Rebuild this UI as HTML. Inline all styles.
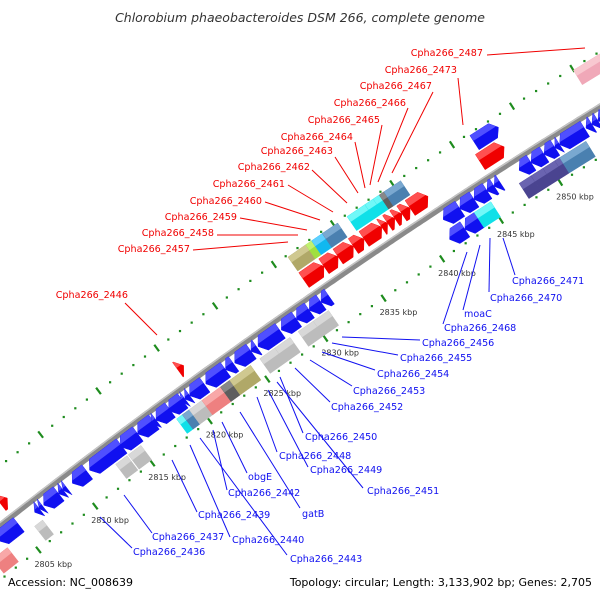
<!DOCTYPE html>
<html><head><meta charset="utf-8"><style>
html,body{margin:0;padding:0;background:#fff;width:600px;height:600px;overflow:hidden}
svg{display:block}
text{font-family:"DejaVu Sans","Liberation Sans",sans-serif}
</style></head><body>
<svg id="chart" width="600" height="600" viewBox="0 0 600 600" xmlns="http://www.w3.org/2000/svg">
<rect width="600" height="600" fill="#fff"/>
<text x="300" y="22" text-anchor="middle" font-size="12.5" font-style="italic" fill="#333">Chlorobium phaeobacteroides DSM 266, complete genome</text>
<g id="ticks"></g><g id="backbone"></g><g id="genes"></g><g id="labels"></g>
<text x="8" y="586" font-size="11" fill="#000">Accession: NC_008639</text>
<text x="592" y="586" text-anchor="end" font-size="11" fill="#000">Topology: circular; Length: 3,133,902 bp; Genes: 2,705</text>
</svg>
<script>
// gene data (kbp)
const geneStart = [2803.2,2806.4,2806.8,2807.2,2808.5,2808.9,2809.7,2811.2,2813.9,2815.4,2816.6,2817.0,2818.1,2819.2,2819.5,2819.9,2821.3,2823.0,2823.8,2825.2,2825.8,2827.8,2829.1,2830.2,2831.2,2841.6,2843.0,2844.2,2845.3,2845.9,2848.0,2849.0,2850.1,2851.0,2851.4,2853.6,2854.1,2854.6,2855.1,2855.6,2856.1,
 2802.1,2805.8,2812.9,2814.0,2818.2,2818.7,2819.3,2820.4,2822.0,2822.8,2825.4,2826.7,2828.7,2830.0,2841.2,2842.5,2843.7,2847.5,2848.5,2849.5,2850.5,2850.9,2855.5,
 2804.9,2820.3,2831.1,2832.8,2834.0,2835.3,2836.2,2837.7,2838.2,2838.8,2839.4,2840.1,2846.0,
 2831.1,2832.6,2833.1,2834.0,2836.1,2837.6,2838.3,2838.8,2839.2,2846.4,2855.0];
const geneEnd = [2805.0,2806.8,2807.1,2808.5,2808.9,2809.2,2811.0,2814.0,2815.4,2816.8,2817.0,2818.2,2819.3,2819.5,2819.9,2821.2,2823.0,2823.7,2825.2,2825.7,2827.7,2829.1,2830.2,2831.2,2831.9,2843.0,2844.2,2845.3,2845.9,2846.4,2849.0,2850.1,2851.0,2851.4,2853.5,2854.1,2854.6,2855.1,2855.6,2856.1,2856.8,
 2803.4,2806.5,2813.9,2815.1,2818.7,2819.3,2820.6,2822.0,2822.8,2824.6,2826.7,2828.0,2830.0,2831.3,2842.5,2843.7,2845.1,2848.5,2849.5,2850.5,2850.9,2853.1,2857.0,
 2805.5,2820.8,2832.8,2834.0,2835.3,2836.2,2837.7,2838.2,2838.8,2839.4,2840.1,2841.6,2848.0,
 2832.6,2833.1,2834.1,2835.3,2837.6,2838.3,2838.8,2839.2,2840.6,2848.4,2857.5];
const geneRow = [].concat(Array(41).fill('b1'),Array(23).fill('b2'),Array(13).fill('r1'),Array(11).fill('r2'));
const geneColor = [].concat(Array(41).fill('blue'),
 ['pink','grey','grey','grey','cyan','steel','grey','pink','dgrey','olive','grey','grey','grey','grey','blue','blue','cyan','purple','purple','purple','purple','steel','steel'],
 Array(13).fill('red'),
 ['olive','lgreen','sky','steel','cyan','cyan','cyan','dgrey','steel','blue','pinkl']);
const tickStartKbp = 2802, tickEndKbp = 2858;
const kbpLabels = [2805,2810,2815,2820,2825,2830,2835,2840,2845,2850];

const palette = {blue:['#1010f0','#5050ff'],red:['#f00000','#ff5050'],grey:['#bcbcbc','#d8d8d8'],cyan:['#10e0e8','#70f8f8'],
 steel:['#4a80b0','#7aa8d0'],pink:['#ee8080','#f8a8a8'],pinkl:['#f0a8b8','#f8c8d0'],dgrey:['#5e5e5e','#888'],olive:['#b0a868','#cfc890'],
 purple:['#4a4490','#6a64b0'],lgreen:['#a0e040','#c0f070'],sky:['#10b8f0','#60d0ff']};
const rowOff = {b1:[2,20],b2:[22,40],r1:[-26,-8],r2:[-45,-28]};

function C(k){const u=k-2805;return [12+11.4*u+0.006*u*u, 516-8.89*u+0.0148*u*u];}
function N(k){const u=k-2805;const dx=11.4+0.012*u, dy=-8.89+0.0296*u;const L=Math.hypot(dx,dy);return [-dy/L,dx/L];}
function P(k,off){const c=C(k),n=N(k);return [c[0]+off*n[0],c[1]+off*n[1]];}
const NS='http://www.w3.org/2000/svg';
function mk(tag,attrs,parent){const e=document.createElementNS(NS,tag);for(const a in attrs)e.setAttribute(a,attrs[a]);parent.appendChild(e);return e;}
const pts=a=>a.map(p=>p[0].toFixed(1)+','+p[1].toFixed(1)).join(' ');

// backbone
const bb=document.getElementById('backbone');
let line=[],hl=[];
for(let k=2801;k<=2859;k+=0.25){line.push(P(k,0));hl.push(P(k,-2.2));}
const b1=mk('polyline',{points:pts(line),fill:'none',stroke:'#8a8a8a','stroke-width':6},bb);


const b2=mk('polyline',{points:pts(hl),fill:'none',stroke:'#c4c4c4','stroke-width':1.5},bb);



// ticks
const tg=document.getElementById('ticks');
for(let k=tickStartKbp;k<=tickEndKbp;k++){
  for(const off of [43,-47]){
    let e;
    if(k%5===0){const a=P(k,off-4),b=P(k,off+4);e=mk('line',{x1:a[0],y1:a[1],x2:b[0],y2:b[1],stroke:'#1e8c1e','stroke-width':2.2},tg);}
    else{const a=P(k,off);e=mk('rect',{x:a[0]-1.1,y:a[1]-1.1,width:2.2,height:2.2,fill:'#1e8c1e'},tg);}
    
    
  }
}
kbpLabels.forEach(k=>{const a=P(k,43);const t=mk('text',{x:a[0]-4,y:a[1]+17,'font-size':8,fill:'#333'},tg);t.textContent=k+' kbp';
  
  });

// genes
const gg=document.getElementById('genes');
for(let i=0;i<geneStart.length;i++){
  const k1=geneStart[i],k2=geneEnd[i],row=geneRow[i],col=palette[geneColor[i]]||palette.grey;
  const [o1,o2]=rowOff[row];const om=(o1+o2)/2;
  const len=k2-k1;const arrow=(geneColor[i]==='blue'||geneColor[i]==='red');
  const reverse=row[0]==='b';
  let body,top;const ot=o1+(o2-o1)*0.38;
  if(arrow){
    const a=Math.min(0.45,len);
    const f=1-(ot-o1)/(om-o1);
    if(reverse){
      body=[P(k1,om),P(k1+a,o1),P(k2,o1),P(k2,o2),P(k1+a,o2)];
      top=[P(k1+a*f,ot),P(k1+a,o1),P(k2,o1),P(k2,ot)];
    }else{
      body=[P(k1,o1),P(k2-a,o1),P(k2,om),P(k2-a,o2),P(k1,o2)];
      top=[P(k1,o1),P(k2-a,o1),P(k2-a*f,ot),P(k1,ot)];
    }
  }else{
    body=[P(k1,o1),P(k2,o1),P(k2,o2),P(k1,o2)];
    top=[P(k1,o1),P(k2,o1),P(k2,ot),P(k1,ot)];
  }
  const g=mk('g',{},gg);
  
  
  mk('polygon',{points:pts(body),fill:col[0],stroke:col[0],'stroke-width':0.5},g);
  mk('polygon',{points:pts(top),fill:col[1]},g);
}

// labels
const redLabels=[['Cpha266_2487',483,56,487,55,585,48],['Cpha266_2473',457,73,458,78,463,125],['Cpha266_2467',432,89,433,92,392,173],
['Cpha266_2466',406,106,408,108,378,182],['Cpha266_2465',380,123,382,125,370,185],['Cpha266_2464',353,140,355,142,365,188],
['Cpha266_2463',333,154,335,157,358,193],['Cpha266_2462',310,170,312,170,347,203],['Cpha266_2461',285,187,288,185,333,212],
['Cpha266_2460',262,204,265,202,320,220],['Cpha266_2459',237,220,240,218,307,230],['Cpha266_2458',214,236,217,235,298,235],
['Cpha266_2457',190,252,193,250,288,242],['Cpha266_2446',128,298,125,303,157,335]];
const blueLabels=[['Cpha266_2471',512,284,515,275,503,238],['Cpha266_2470',490,301,489,292,490,238],['moaC',464,317,463,310,480,245],
['Cpha266_2468',444,331,443,324,467,252],['Cpha266_2456',422,346,420,340,342,337],['Cpha266_2455',400,361,398,355,332,343],
['Cpha266_2454',377,377,375,370,322,352],['Cpha266_2453',353,394,352,386,310,360],['Cpha266_2452',331,410,330,402,295,368],
['Cpha266_2450',305,440,303,433,280,377],['Cpha266_2448',279,459,277,452,257,397],['Cpha266_2449',310,473,308,467,268,390],
['Cpha266_2451',367,494,363,488,277,382],['obgE',248,480,247,473,222,422],['Cpha266_2442',228,496,227,490,213,430],
['gatB',302,517,300,508,240,412],['Cpha266_2439',198,518,197,512,172,460],['Cpha266_2440',232,543,230,537,190,445],
['Cpha266_2437',152,540,152,533,124,495],['Cpha266_2436',133,555,132,548,100,517],['Cpha266_2443',290,562,287,555,200,438]];
const lg=document.getElementById('labels');
function addLabel(d,color,anchor){
  const l=mk('line',{x1:d[3],y1:d[4],x2:d[5],y2:d[6],stroke:color,'stroke-width':1},lg);
  
  
  const t=mk('text',{x:d[1],y:d[2],'font-size':9.6,fill:color,'text-anchor':anchor},lg);
  t.textContent=d[0];
  
  
}
redLabels.forEach(d=>addLabel(d,'#f00000','end'));
blueLabels.forEach(d=>addLabel(d,'#1010f0','start'));
</script>
</body></html>
